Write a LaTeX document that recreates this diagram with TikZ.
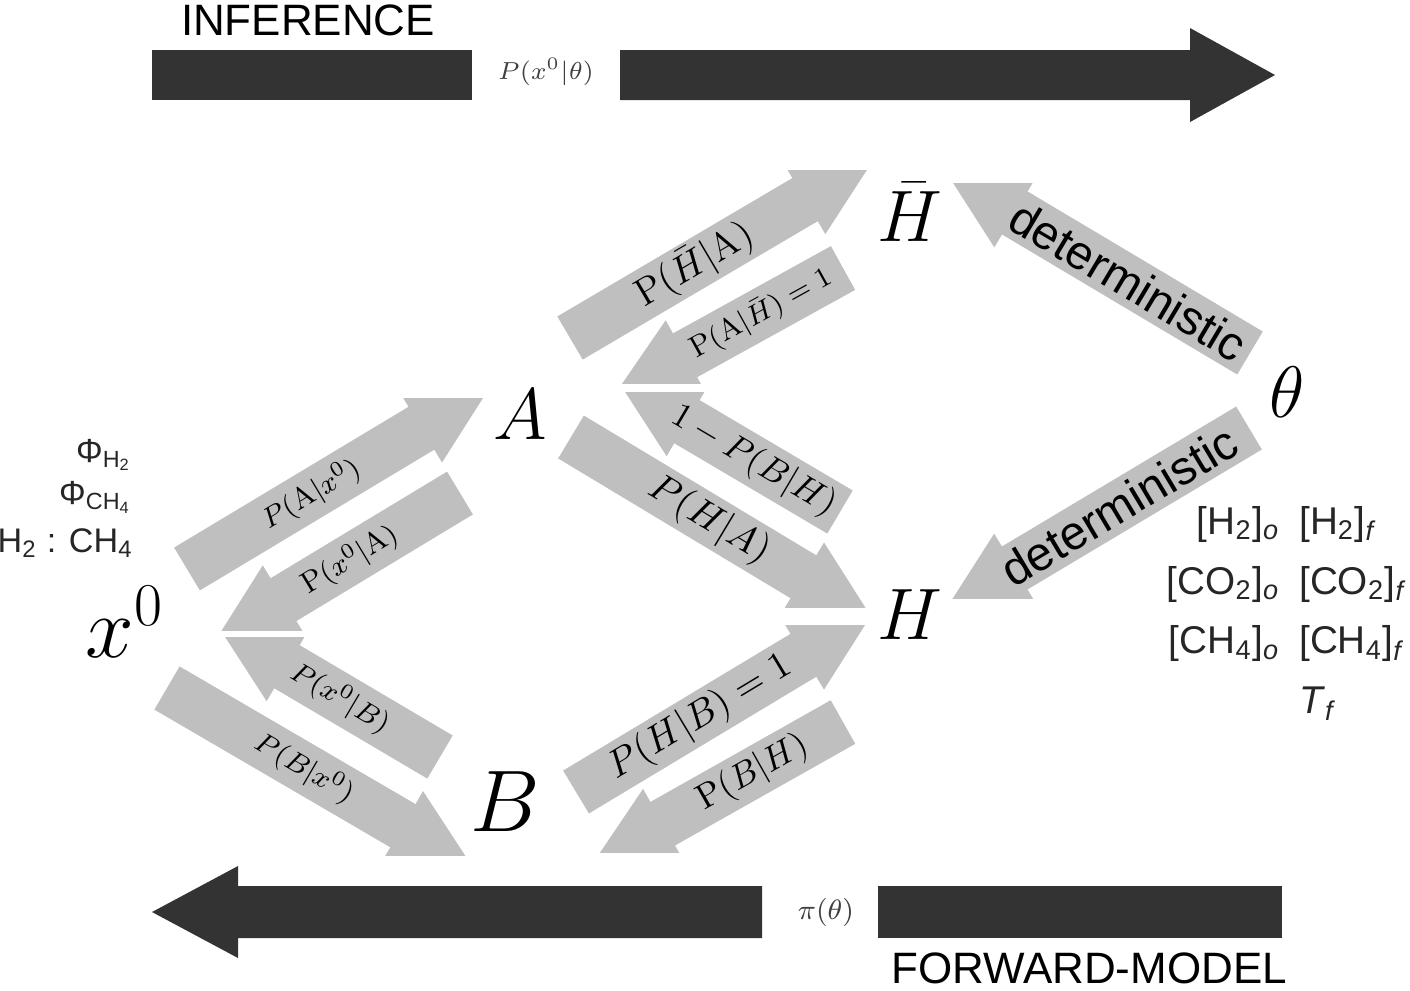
\documentclass[tikz,border=0pt]{standalone}
\usepackage{fontspec}
\newfontfamily\helv{Liberation Sans}
\usetikzlibrary{arrows.meta}

\tikzset{
  fat/.style={gray!50, line width=0.5cm, line cap=rect, shorten <=0.25cm, -{Triangle[length=0.8cm,width=0.8cm,line width=0pt]}},
  bar/.style={fill=black!80},
  var/.style={font=\fontsize{20}{24}\selectfont},
  cond/.style={sloped, text=black, inner sep=0pt, font=\fontsize{#1}{#1}\selectfont},
  sans/.style={inner sep=0pt, text=black!85, font=\helv\fontsize{#1}{#1}\selectfont},
}

\begin{document}
\begin{tikzpicture}[x=0.01cm, y=-0.01cm]
	\useasboundingbox (0,0) rectangle (1410,990);

	% inference / forward model bars
	\fill[bar] (152,50) rectangle (472,100);
	\fill[bar] (620,50) -- (1190,50) -- (1190,28) -- (1275,75) -- (1190,122) -- (1190,100) -- (620,100) -- cycle;
	\node[sans=12.5, text=black] (inf) at (308,20) {INFERENCE};
	\node[font=\fontsize{7.5}{9}\selectfont, text=black!75] (lik) at (546,72) {$P(x^0|\theta)$};
	\fill[bar] (878,886) rectangle (1282,938);
	\fill[bar] (762,886) -- (238,886) -- (238,866) -- (152,912) -- (238,958) -- (238,938) -- (762,938) -- cycle;
	\node[sans=12.5, text=black] (fwd) at (1089,968) {FORWARD-MODEL};
	\node[font=\fontsize{8}{10}\selectfont, text=black!75] (prior) at (826,912) {$\pi(\theta)$};

	% variables
	\node[font=\fontsize{25}{28}\selectfont] (x0) at (125,622) {$x^0$};
	\node[var] (A) at (520,415) {$A$};
	\node[var, font=\fontsize{23}{26}\selectfont] (B) at (505,802) {$B$};
	\node[var] (H) at (910,615) {$H$};
	\node[var] (Hbar) at (910,212) {$\bar{H}$};
	\node[var] (theta) at (1287,392) {$\theta$};

	\node[sans=9.5, anchor=east] (phiH) at (133,455) {Φ\textsubscript{H\textsubscript{2}}};
	\node[sans=9.5, anchor=east] (phiC) at (133,497) {Φ\textsubscript{CH\textsubscript{4}}};
	\node[sans=9.7, anchor=east] (ratio) at (134,543) {H\textsubscript{2} : CH\textsubscript{4}};
	\node[sans=11] (params) at (1287,612) {\renewcommand{\arraystretch}{1.55}%
		\begin{tabular}{@{}r@{\hspace{0.5em}}l@{}}
		{[}H\textsubscript{2}]\textsubscript{\textit{o}} & {[}H\textsubscript{2}]\textsubscript{\textit{f}}\\
		{[}CO\textsubscript{2}]\textsubscript{\textit{o}} & {[}CO\textsubscript{2}]\textsubscript{\textit{f}}\\
		{[}CH\textsubscript{4}]\textsubscript{\textit{o}} & {[}CH\textsubscript{4}]\textsubscript{\textit{f}}\\
		& \textit{T}\textsubscript{\textit{f}}
		\end{tabular}};

	% ends of the fat arrows
	\coordinate (x0At) at (187,569);  \coordinate (x0Ah) at (490,387);
	\coordinate (Ax0t) at (460,493);  \coordinate (Ax0h) at (215,641);
	\coordinate (Bx0t) at (440,757);  \coordinate (Bx0h) at (218,626);
	\coordinate (x0Bt) at (167,688);  \coordinate (x0Bh) at (472,866);
	\coordinate (AHbt) at (570,338);  \coordinate (AHbh) at (874,159);
	\coordinate (HbAt) at (843,268);  \coordinate (HbAh) at (615,394);
	\coordinate (HAt) at (840,512);   \coordinate (HAh) at (618,381);
	\coordinate (AHt) at (571,437);   \coordinate (AHh) at (872,618);
	\coordinate (BHt) at (576,792);   \coordinate (BHh) at (872,614);
	\coordinate (HBt) at (843,722);   \coordinate (HBh) at (593,863);
	\coordinate (thHbt) at (1250,353); \coordinate (thHbh) at (946,172);
	\coordinate (thHt) at (1249,428);  \coordinate (thHh) at (946,609);

	% x0 <-> A
	\begin{scope}
		\clip (0,398) rectangle (1410,990);
		\draw[fat] (x0At) -- node[pos=.41, cond=8.5] {$P(\mathrm{A}|x^0)$} (x0Ah);
	\end{scope}
	\begin{scope}
		\clip (0,0) rectangle (1410,630);
		\draw[fat] (Ax0t) -- node[pos=.45, cond=8.5] {$\mathrm{P}(x^0|\mathrm{A})$} (Ax0h);
	\end{scope}
	% x0 <-> B
	\begin{scope}
		\clip (0,637) rectangle (1410,990);
		\draw[fat] (Bx0t) -- node[pos=.45, cond=8.5] {$P(x^0|B)$} (Bx0h);
	\end{scope}
	\begin{scope}
		\clip (0,0) rectangle (1410,855);
		\draw[fat] (x0Bt) -- node[pos=.45, cond=8.5] {$P(B|x^0)$} (x0Bh);
	\end{scope}
	% A <-> Hbar
	\begin{scope}
		\clip (0,170) rectangle (1410,990);
		\draw[fat] (AHbt) -- node[pos=.41, cond=11] {$\mathrm{P}(\bar{H}|\mathrm{A})$} (AHbh);
	\end{scope}
	\begin{scope}
		\clip (0,0) rectangle (1410,383);
		\draw[fat] (HbAt) -- node[pos=.36, cond=8.5] {$\mathrm{P}(\mathrm{A}|\bar{H})=1$} (HbAh);
	\end{scope}
	% A <-> H
	\begin{scope}
		\clip (0,392) rectangle (1410,990);
		\draw[fat] (HAt) -- node[pos=.39, cond=10] {$1-P(B|H)$} (HAh);
	\end{scope}
	\begin{scope}
		\clip (0,0) rectangle (1410,607);
		\draw[fat] (AHt) -- node[pos=.46, cond=11] {$P(H|A)$} (AHh);
	\end{scope}
	% B <-> H
	\begin{scope}
		\clip (0,625) rectangle (1410,990);
		\draw[fat] (BHt) -- node[pos=.42, cond=11] {$P(H|B)=1$} (BHh);
	\end{scope}
	\begin{scope}
		\clip (0,0) rectangle (1410,852);
		\draw[fat] (HBt) -- node[pos=.36, cond=10] {$\mathrm{P}(B|H)$} (HBh);
	\end{scope}
	% theta -> Hbar, H
	\begin{scope}
		\clip (0,183) rectangle (1410,990);
		\draw[fat] (thHbt) -- node[pos=.40, cond=13.5, font=\helv\fontsize{13.5}{14}\selectfont] {deterministic} (thHbh);
	\end{scope}
	\begin{scope}
		\clip (0,0) rectangle (1410,598);
		\draw[fat] (thHt) -- node[pos=.43, cond=13.5, font=\helv\fontsize{13.5}{14}\selectfont] {deterministic} (thHh);
	\end{scope}

\end{tikzpicture}
\end{document}
